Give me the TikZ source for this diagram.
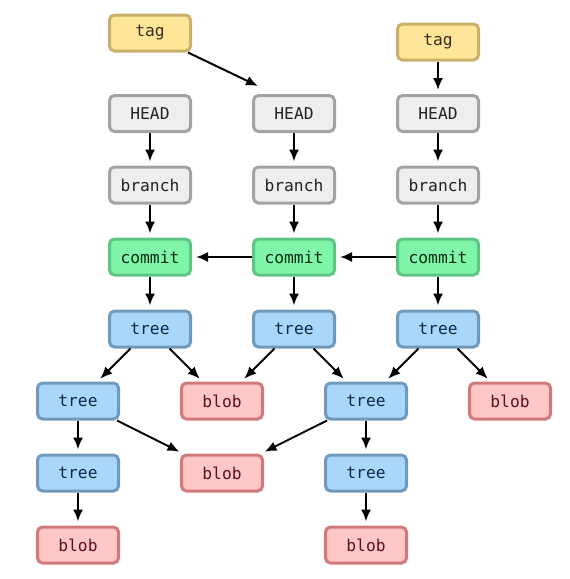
\documentclass[tikz,border=0pt]{standalone}
\usepackage{fontspec}
\setmonofont{DejaVu Sans Mono}
\usetikzlibrary{arrows.meta}
\definecolor{tagfill}{HTML}{FFE597}
\definecolor{tagdraw}{HTML}{C9B06B}
\definecolor{tagtext}{HTML}{3A3020}
\definecolor{refill}{HTML}{EEEEEE}
\definecolor{refdraw}{HTML}{A3A3A3}
\definecolor{reftext}{HTML}{222222}
\definecolor{cmfill}{HTML}{80F5A9}
\definecolor{cmdraw}{HTML}{5DC585}
\definecolor{cmtext}{HTML}{0A2A14}
\definecolor{trfill}{HTML}{A9D6FB}
\definecolor{trdraw}{HTML}{7099BA}
\definecolor{trtext}{HTML}{102A44}
\definecolor{blfill}{HTML}{FFC7C7}
\definecolor{bldraw}{HTML}{D07A7A}
\definecolor{bltext}{HTML}{5A1020}
\tikzset{
  obj/.style={rectangle, rounded corners=3.75pt, line width=2.25pt,
    minimum width=60.75pt, minimum height=27pt, inner sep=0pt,
    font=\ttfamily\fontsize{12.2}{14}\selectfont},
  tagbox/.style={obj, fill=tagfill, draw=tagdraw, text=tagtext},
  refbox/.style={obj, fill=refill, draw=refdraw, text=reftext},
  cmbox/.style={obj, fill=cmfill, draw=cmdraw, text=cmtext},
  trbox/.style={obj, fill=trfill, draw=trdraw, text=trtext},
  blbox/.style={obj, fill=blfill, draw=bldraw, text=bltext},
  tip/.style={-{Latex[length=9pt,width=7.5pt]}},
  arr/.style={line width=1.5pt, tip, shorten >=3pt}
}
\begin{document}
\begin{tikzpicture}[x=0.75pt,y=-0.75pt]
\useasboundingbox (0,0) rectangle (569,579);
\node[tagbox] (tag1) at (150,33) {tag};
\node[tagbox] (tag3) at (438,42) {tag};
\node[refbox] (head1) at (150,113.5) {HEAD};
\node[refbox] (head2) at (294,113.5) {HEAD};
\node[refbox] (head3) at (438,113.5) {HEAD};
\node[refbox] (br1) at (150,185) {branch};
\node[refbox] (br2) at (294,185) {branch};
\node[refbox] (br3) at (438,185) {branch};
\node[cmbox] (cm1) at (150,257) {commit};
\node[cmbox] (cm2) at (294,257) {commit};
\node[cmbox] (cm3) at (438,257) {commit};
\node[trbox] (tr1) at (150,329) {tree};
\node[trbox] (tr2) at (294,329) {tree};
\node[trbox] (tr3) at (438,329) {tree};
\node[trbox] (tA) at (78,401) {tree};
\node[blbox] (bA) at (222,401) {blob};
\node[trbox] (tB) at (366,401) {tree};
\node[blbox] (bB) at (510,401) {blob};
\node[trbox] (tC) at (78,473) {tree};
\node[blbox] (bC) at (222,473) {blob};
\node[trbox] (tD) at (366,473) {tree};
\node[blbox] (bD) at (78,545) {blob};
\node[blbox] (bE) at (366,545) {blob};
\coordinate (tagend) at (258,86);
\draw[line width=1.5pt, tip] ([xshift=-3pt]tag1.south east) -- (tagend);
\draw[arr] (tag3) -- (head3);
\foreach \i in {1,2,3}{
  \draw[arr] (head\i) -- (br\i);
  \draw[arr] (br\i) -- (cm\i);
  \draw[arr] (cm\i) -- (tr\i);
}
\draw[arr] (cm2) -- (cm1);
\draw[arr] (cm3) -- (cm2);
\draw[arr] (tr1) -- (tA);
\draw[arr] (tr1) -- (bA);
\draw[arr] (tr2) -- (bA);
\draw[arr] (tr2) -- (tB);
\draw[arr] (tr3) -- (tB);
\draw[arr] (tr3) -- (bB);
\draw[arr] (tA) -- (tC);
\draw[arr] (tA) -- (bC);
\draw[arr] (tB) -- (bC);
\draw[arr] (tB) -- (tD);
\draw[arr] (tC) -- (bD);
\draw[arr] (tD) -- (bE);
\end{tikzpicture}
\end{document}
